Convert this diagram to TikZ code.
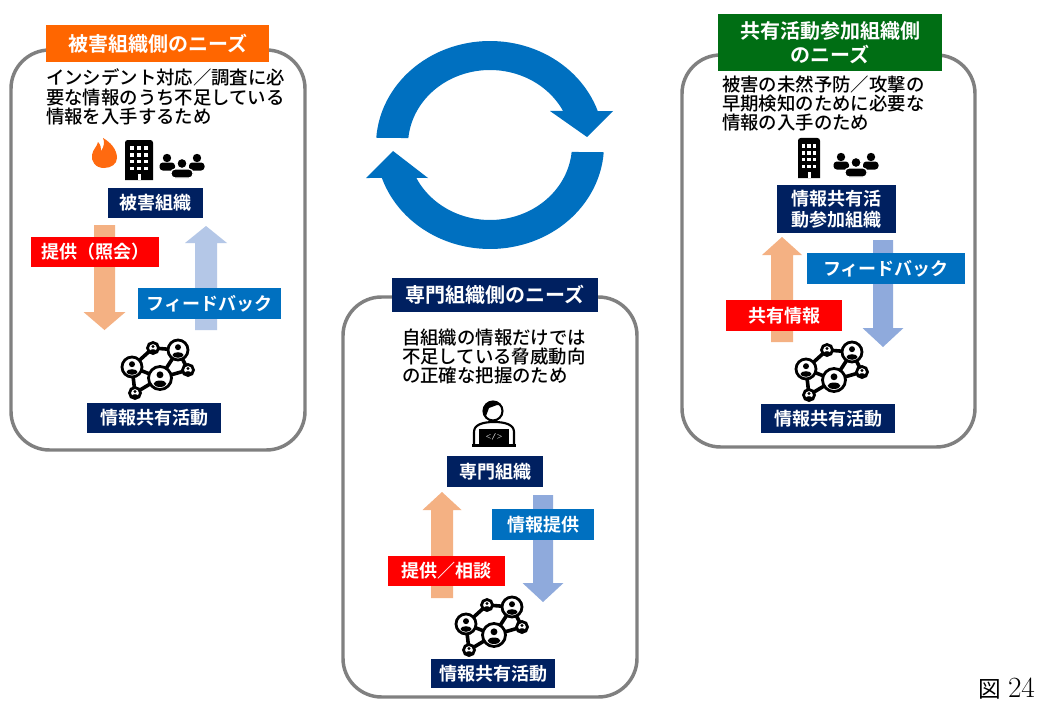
\documentclass[tikz,border=0pt]{standalone}
\usepackage{fontspec}
\newfontfamily\jp{Noto Sans CJK JP}[BoldFont={Noto Sans CJK JP Bold}]
\newfontfamily\jpm{Noto Sans CJK JP Medium}
\usetikzlibrary{calc}
\definecolor{navy}{HTML}{002060}
\definecolor{orng}{HTML}{FF6600}
\definecolor{grn}{HTML}{006E14}
\definecolor{rd}{HTML}{FF0000}
\definecolor{bl}{HTML}{0070C0}
\definecolor{arrO}{HTML}{F4B183}
\definecolor{arrBa}{HTML}{B4C7E7}
\definecolor{arrBb}{HTML}{8FAADC}
\definecolor{pgray}{HTML}{808080}
\definecolor{flame}{HTML}{FF6A10}
\newcommand\lblfont{\jp\bfseries\fontsize{13.5}{15}\selectfont}
\newcommand\ttlfont{\jp\bfseries\fontsize{15}{16}\selectfont}
\newcommand\bodyfont{\jpm\fontsize{13.8}{14}\selectfont}
\tikzset{
  every node/.style={inner sep=0pt, outer sep=0pt},
  panel/.style={draw=pgray, line width=2.6pt, rounded corners=29pt},
  lbl/.style={fill=#1, text=white, font=\lblfont, align=center},
  ttl/.style={fill=#1, text=white, font=\ttlfont, align=center},
  bodytxt/.style={anchor=base west, font=\bodyfont, text=black},
  cyc/.style={fill=bl},
}
% box: name, style, colour, x1, y1, x2, y2, text
\newcommand\bx[8]{\node[#2=#3, minimum width={(#6-#4)*0.75pt}, minimum height={(#7-#5)*0.75pt}] (#1) at ({(#4+#6)/2},{(#5+#7)/2}) {#8};}
% block arrow: colour, cx, tail y, tip y, shaft half width, head half width, head base y
\newcommand\barrow[7]{\fill[#1] ({#2-#5},#3) -- ({#2-#5},#7) -- ({#2-#6},#7) -- (#2,#4) -- ({#2+#6},#7) -- ({#2+#5},#7) -- ({#2+#5},#3) -- cycle;}
% building icon
\newcommand\bldg[4]{%
  \fill (#1,#4) [rounded corners=2pt] -- (#1,#2) -- (#3,#2) [sharp corners] -- (#3,#4) -- cycle;
  \foreach \fx in {0.25,0.5,0.75}{\foreach \fy in {0.2,0.37,0.54,0.71}{
    \fill[white] ({#1+\fx*(#3-#1)-1.8},{#2+\fy*(#4-#2)-1.8}) rectangle ++(3.6,3.6);}}
  \fill[white] ({(#1+#3)/2-1.5},{#2+0.85*(#4-#2)}) rectangle ++(3,{0.15*(#4-#2)});
}
% people icon
\newcommand\people[2]{\begin{scope}[shift={(#1,#2)}]
  \fill (-15,-8) circle (4.2);
  \fill[rounded corners=2.5pt] (-22.5,4.5) -- (-22.5,-3.5) -- (-7,-3.5) -- (-7,4.5) -- cycle;
  \fill (15,-8) circle (4.2);
  \fill[rounded corners=2.5pt] (7,4.5) -- (7,-3.5) -- (22.5,-3.5) -- (22.5,4.5) -- cycle;
  \filldraw[draw=white, line width=0.9pt, rounded corners=3pt] (-11,12) -- (-11,3) -- (11,3) -- (11,12) -- cycle;
  \filldraw[draw=white, line width=0.9pt] (0,-2.5) circle (5.1);
\end{scope}}
% network icon
\newcommand\netnode[3]{\begin{scope}[shift={(#1,#2)}]
  \filldraw[fill=white, draw=black, line width=2.1pt] (0,0) circle (#3);
  \fill (0,{-0.28*#3}) circle ({0.3*#3});
  \fill (0,{0.5*#3}) ellipse [x radius={0.55*#3}, y radius={0.28*#3}];
\end{scope}}
\newcommand\netico[2]{\begin{scope}[shift={(#1,#2)}]
  \draw[line width=2.7pt] (-26,-3) -- (-5,-22) -- (20,-20) -- (30,0) -- (2,8) -- (-26,-3)
     (20,-20) -- (2,8) (-26,-3) -- (-23,23) -- (2,8);
  \netnode{-26}{-3}{10}\netnode{-5}{-22}{5.5}\netnode{20}{-20}{10}
  \netnode{30}{0}{5.5}\netnode{2}{8}{11.5}\netnode{-23}{23}{5.5}
\end{scope}}
\begin{document}
\begin{tikzpicture}[x=0.75pt, y=-0.75pt]
\useasboundingbox (0,0) rectangle (1043,724);
\fill[white] (0,0) rectangle (1043,724);

% ---------- panels ----------
\draw[panel] (11,50) rectangle (305,450);
\draw[panel] (682,55) rectangle (975,447);
\draw[panel] (343,297) rectangle (637,697);

% ---------- cycle arrows ----------
\fill[cyc] plot[domain=184:341, samples=60] ({490+114*cos(\x)},{145+104*sin(\x)})
   -- (613,111) -- (587,137) -- (550,111)
   -- plot[domain=333:185.3, samples=60] ({490+82*cos(\x)},{145+75*sin(\x)}) -- cycle;
\fill[cyc] plot[domain=4:161.5, samples=60] ({490+114*cos(\x)},{145+104*sin(\x)})
   -- (366,178) -- (393,151) -- (428,178)
   -- plot[domain=153.9:5.3, samples=60] ({490+82*cos(\x)},{145+75*sin(\x)}) -- cycle;

% ---------- left panel ----------
\bx{tL}{ttl}{orng}{46}{25}{269}{62}{被害組織側のニーズ}
\node[bodytxt] (bL1) at (46,85) {インシデント対応／調査に必};
\node[bodytxt] (bL2) at (46,104) {要な情報のうち不足している};
\node[bodytxt] (bL3) at (46,123) {情報を入手するため};
\fill[flame] (104,168) .. controls (95,168) and (91,161) .. (92,155)
   .. controls (93,149) and (97,147) .. (98,142)
   .. controls (101,145) and (101,148) .. (101,151)
   .. controls (104,147) and (105,142) .. (103,138)
   .. controls (110,142) and (117,149) .. (117,158)
   .. controls (117,164) and (111,168) .. (104,168) -- cycle;
\bldg{125}{140}{153}{180}
\people{182}{166}
\barrow{arrO}{104.5}{225}{330}{10.5}{21}{312}
\barrow{arrBa}{206}{330}{226}{11}{21}{243}
\bx{vL}{lbl}{navy}{108}{188}{203}{218}{被害組織}
\bx{rL}{lbl}{rd}{31}{237}{159}{267}{提供（照会）}
\bx{fL}{lbl}{bl}{138}{288}{281}{319}{フィードバック}
\netico{158}{370}
\bx{nL}{lbl}{navy}{87}{403}{221}{433}{情報共有活動}

% ---------- right panel ----------
\bx{tR}{ttl}{grn}{718}{14}{942}{71}{共有活動参加組織側\\[2pt]のニーズ}
\node[bodytxt] (bR1) at (722,92) {被害の未然予防／攻撃の};
\node[bodytxt] (bR2) at (722,111) {早期検知のために必要な};
\node[bodytxt] (bR3) at (722,130) {情報の入手のため};
\bldg{798}{138}{820}{178}
\people{856}{165}
\barrow{arrO}{782}{342}{237}{11}{20}{255}
\barrow{arrBb}{883}{240}{347}{10}{20.5}{328}
\bx{pR}{lbl}{navy}{777}{185}{896}{233}{情報共有活\\[1pt]動参加組織}
\bx{fR}{lbl}{bl}{807}{253}{965}{284}{フィードバック}
\bx{rR}{lbl}{rd}{726}{300}{842}{331}{共有情報}
\netico{832}{372}
\bx{nR}{lbl}{navy}{761}{404}{895}{433}{情報共有活動}

% ---------- middle panel ----------
\bx{tM}{ttl}{navy}{392}{278}{598}{312}{専門組織側のニーズ}
\node[bodytxt] (bM1) at (402,344) {自組織の情報だけでは};
\node[bodytxt] (bM2) at (402,363) {不足している脅威動向};
\node[bodytxt] (bM3) at (402,382) {の正確な把握のため};
% person with laptop
\filldraw[fill=white, draw=black, line width=1.6pt] (474,445) -- (474,432)
   .. controls (474,425) and (482,422) .. (494,422)
   .. controls (506,422) and (514,425) .. (514,432) -- (514,445);
\filldraw[fill=white, draw=black, line width=1.6pt] (493,411) circle (9.5);
\begin{scope}
  \clip (493,411) circle (9.5);
  \fill (482,399) -- (505,399) -- (505,406) -- (497,405) -- (489,408) -- (486,416) -- (482,416) -- cycle;
\end{scope}
\fill (479,429) rectangle (509,445);
\node[text=white, font=\fontsize{5}{5}\selectfont\bfseries] (code) at (494,437) {</>};
\draw[line width=1.6pt] (472,445.5) -- (516,445.5);
\barrow{arrO}{442}{598}{492}{11}{19.5}{510}
\barrow{arrBb}{543}{495}{602}{10}{20.5}{583}
\bx{sM}{lbl}{navy}{447}{456}{543}{487}{専門組織}
\bx{iM}{lbl}{bl}{492}{509}{594}{540}{情報提供}
\bx{rM}{lbl}{rd}{388}{556}{505}{586}{提供／相談}
\netico{492}{627}
\bx{nM}{lbl}{navy}{431}{659}{555}{688}{情報共有活動}

% ---------- figure number ----------
\node[anchor=base west] (fig) at (978,697) {\jp\fontsize{17}{17}\selectfont 図};
\node[anchor=base west] (fignum) at (1008,697) {\fontsize{22}{22}\selectfont 24};
\end{tikzpicture}
\end{document}
